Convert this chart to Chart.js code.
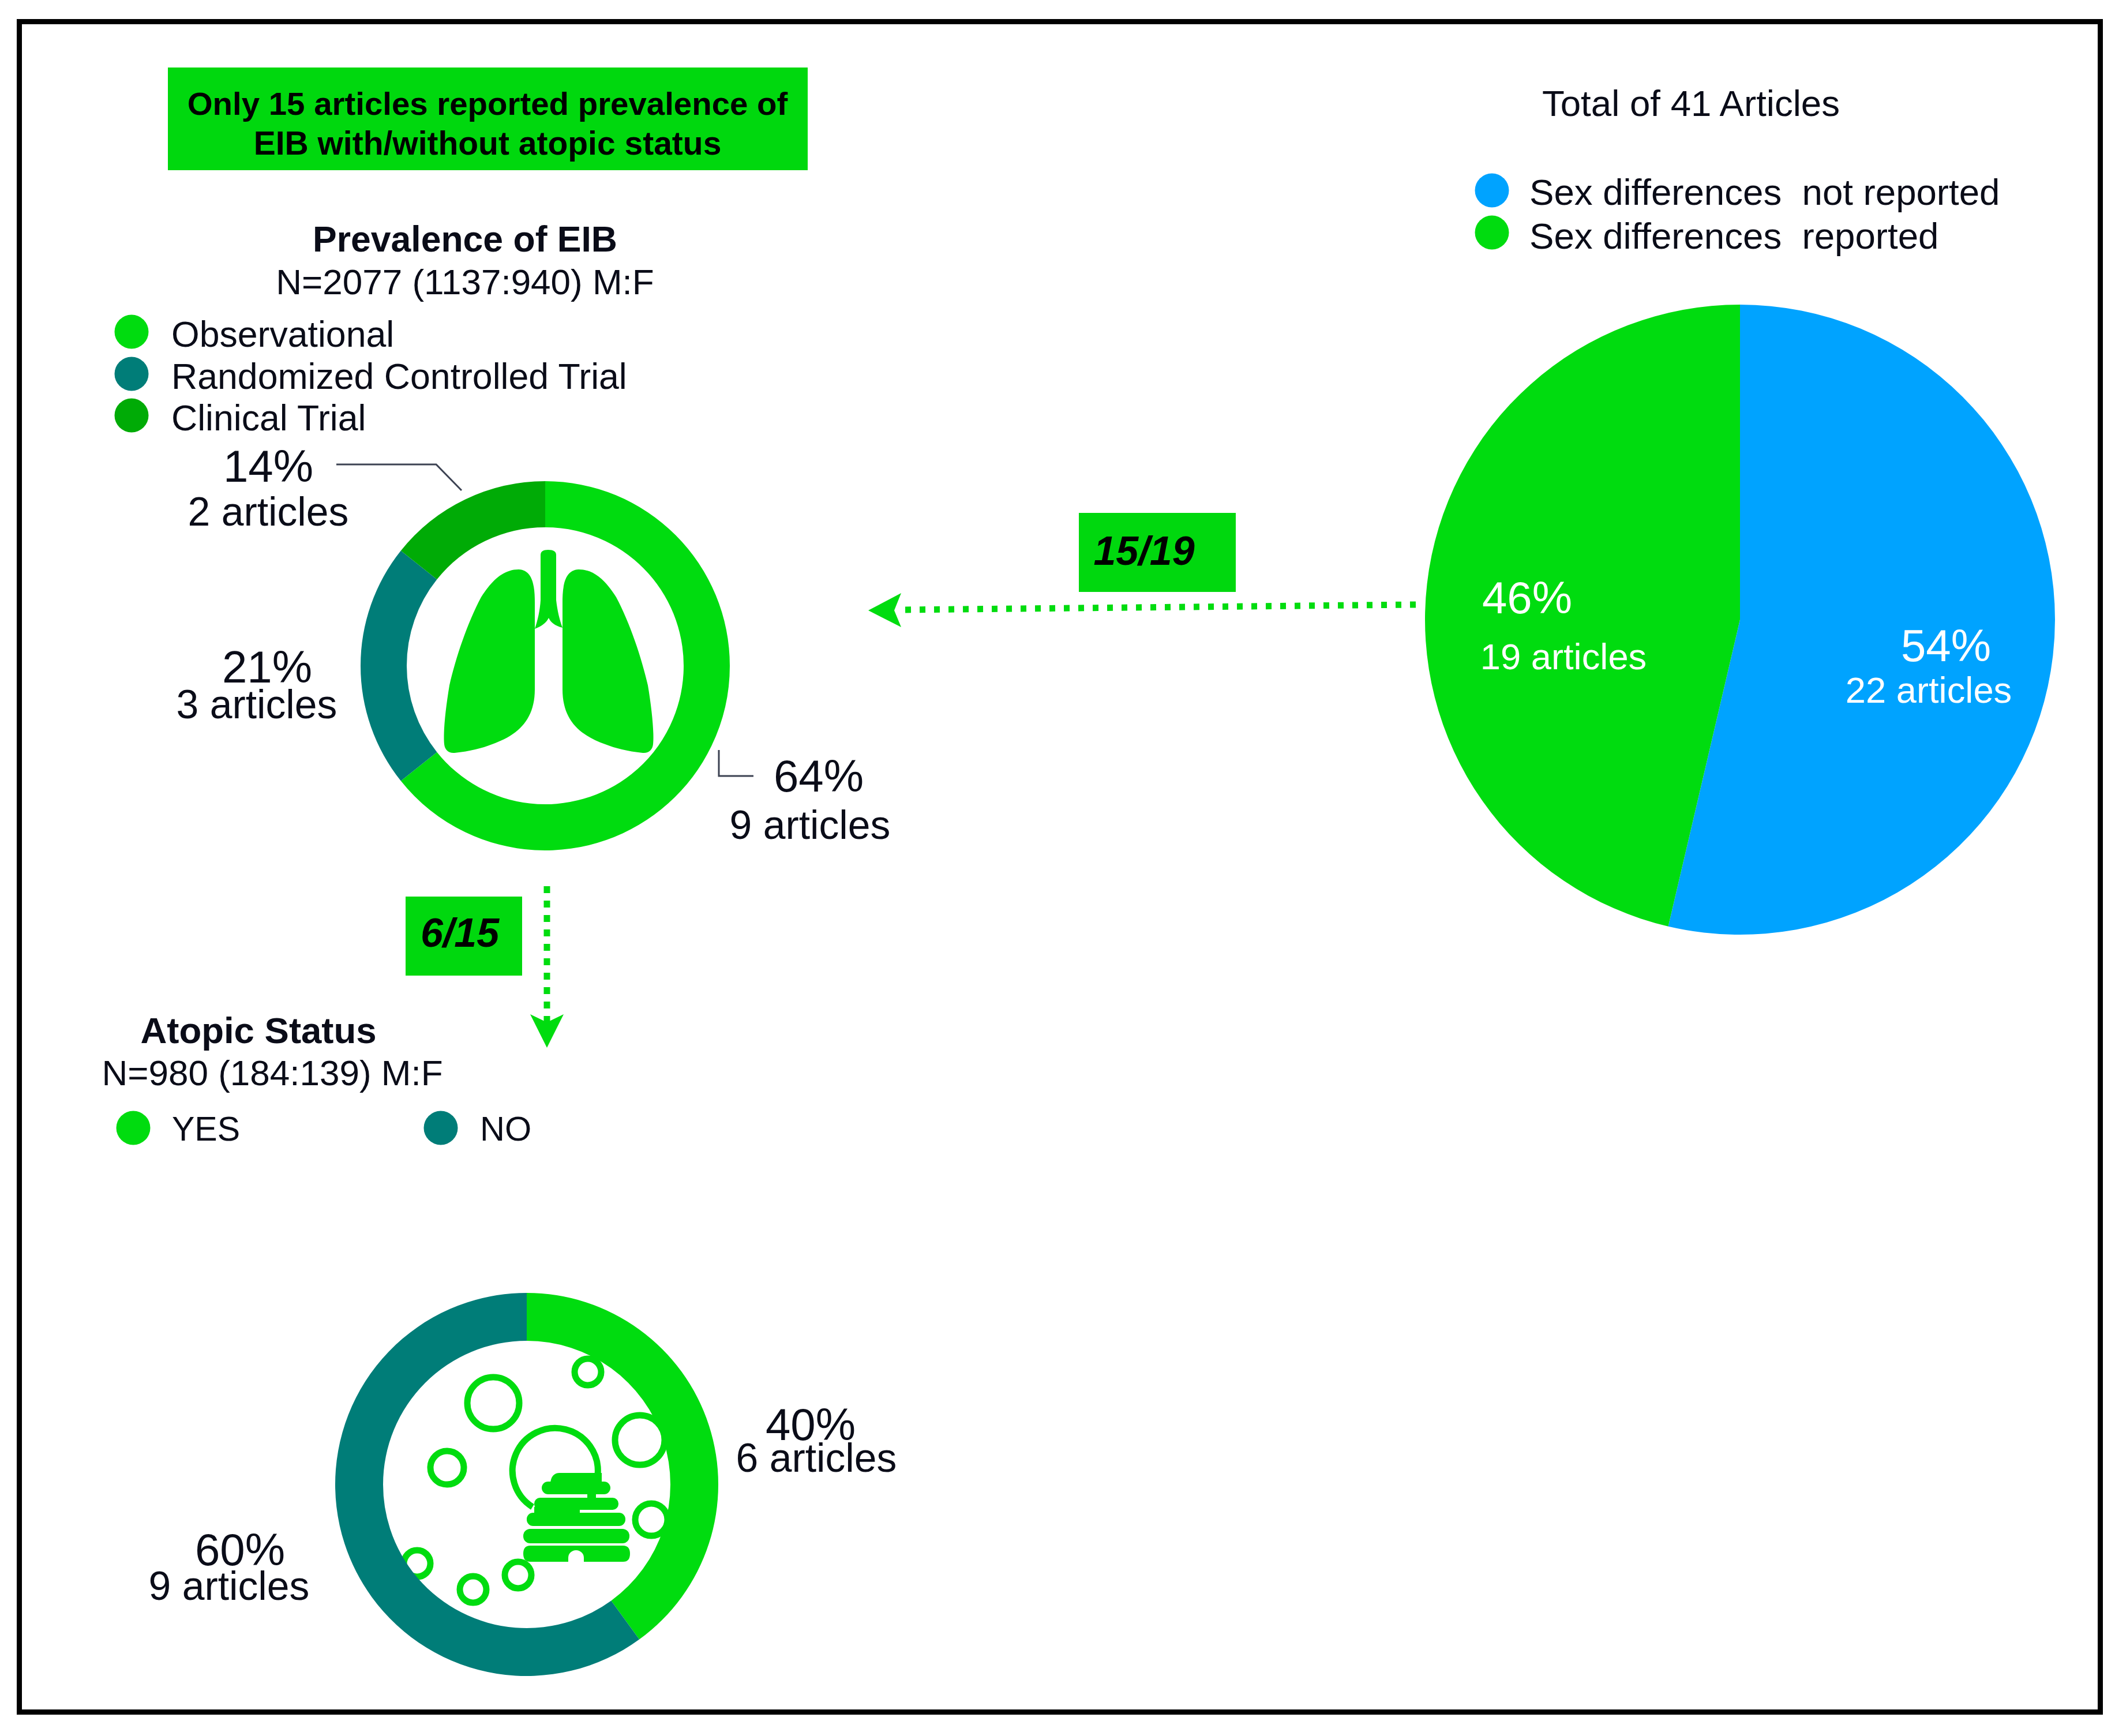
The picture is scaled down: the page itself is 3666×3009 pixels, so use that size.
<!DOCTYPE html>
<html>
<head>
<meta charset="utf-8">
<title>EIB articles</title>
<script src="https://cdn.jsdelivr.net/npm/chart.js@4"></script>
<style>
    html, body { margin: 0; padding: 0; background: #fff; }
    #page { position: relative; width: 3666px; height: 3009px; overflow: hidden; background: #fff; font-family: "Liberation Sans", Arial, sans-serif; color: #0a0c18; }
    #frame { position: absolute; left: 29px; top: 33px; width: 3598px; height: 2921px; border: 9px solid #000; }
    #shapes { position: absolute; left: 0; top: 0; }
    canvas { position: absolute; }
    .txt { position: absolute; white-space: pre; line-height: 0.75; transform: translate(-50%, -50%); }
    .txt.left { transform: translate(0, -50%); }
    .box { position: absolute; background: #00d80e; }
    .dot { position: absolute; border-radius: 50%; transform: translate(-50%, -50%); }
</style>
</head>
<body>
<div id="page">
    <div id="frame"></div>
    <div class="box" style="left:291px;top:117px;width:1109px;height:178px"></div>
    <div class="box" style="left:1870px;top:889px;width:272px;height:137px"></div>
    <div class="box" style="left:703px;top:1554px;width:202px;height:137px"></div>

    <svg id="shapes" width="3666" height="3009" xmlns="http://www.w3.org/2000/svg">
        <!-- leader lines -->
        <polyline points="583,805 756,805 800,850" fill="none" stroke="#3c4252" stroke-width="3"/>
        <polyline points="1246,1300 1246,1345 1306,1345" fill="none" stroke="#3c4252" stroke-width="3"/>

        <!-- dotted arrows -->
        <line x1="2454" y1="1048" x2="1565" y2="1057" stroke="#00dc0f" stroke-width="11" stroke-dasharray="10 15"/>
        <polygon points="1505,1058 1562,1028 1550,1058 1562,1087" fill="#00dc0f"/>
        <line x1="948" y1="1536" x2="948" y2="1772" stroke="#00dc0f" stroke-width="11" stroke-dasharray="12 13"/>
        <polygon points="948,1816 919,1758 948,1772 977,1758" fill="#00dc0f"/>

        <!-- lungs -->
        <g fill="#00dc0f">
            <path id="lung" d="M899 987 C870 987 850 1010 834 1035 C810 1080 790 1140 779 1188 C772 1230 768 1270 770 1290 C771 1300 778 1306 788 1305 C815 1302 835 1297 853 1290 C895 1275 927 1250 927 1195 L927 1045 C927 1020 925 988 899 987 Z"/>
            <use href="#lung" transform="translate(1902 0) scale(-1 1)"/>
            <path d="M937 962 Q937 953 950 953 Q964 953 964 962 L964 1040 C966 1058 970 1075 975 1088 C962 1085 954 1078 951 1071 C948 1078 940 1085 927 1090 C932 1075 936 1058 937 1040 Z"/>
        </g>

        <!-- beehive and bees -->
        <g fill="none" stroke="#00dc0f" stroke-width="11">
            <circle cx="855" cy="2432" r="45"/>
            <circle cx="1019" cy="2378" r="23"/>
            <circle cx="1109" cy="2496" r="43"/>
            <circle cx="775" cy="2544" r="29"/>
            <circle cx="1129" cy="2634" r="28"/>
            <circle cx="723" cy="2710" r="23"/>
            <circle cx="820" cy="2755" r="23"/>
            <circle cx="898" cy="2730" r="23"/>
            <path d="M1036 2556 A74 74 0 1 0 923 2612"/>
        </g>
        <g fill="#00dc0f">
            <path d="M954 2570 Q956 2553 970 2553 L1043 2553 L1043 2570 Z"/>
            <rect x="939" y="2568" width="119" height="22" rx="11"/>
            <rect x="1018" y="2588" width="15" height="10"/>
            <rect x="926" y="2596" width="146" height="21" rx="10"/>
            <rect x="926" y="2612" width="79" height="14"/>
            <rect x="913" y="2622" width="171" height="23" rx="11"/>
            <rect x="907" y="2650" width="184" height="25" rx="12"/>
            <path d="M919 2679 L1080 2679 Q1092 2679 1092 2693 Q1092 2707 1080 2707 L1012 2707 L1012 2700 A13.500 13 0 0 0 985 2700 L985 2707 L919 2707 Q907 2707 907 2693 Q907 2679 919 2679 Z"/>
        </g>
    </svg>

    <canvas id="sexChart" style="left:2470px;top:528px" width="1092" height="1092"></canvas>
    <canvas id="prevalenceChart" style="left:625px;top:834px" width="640" height="640"></canvas>
    <canvas id="atopicChart" style="left:581px;top:2241px" width="664" height="664"></canvas>
</div>

<script>
// Data
const sexLabels = ['Sex differences  not reported', 'Sex differences  reported'];
const sexArticles = [22, 19];
const sexShares = ['54%', '46%'];

const prevalenceLabels = ['Observational', 'Randomized Controlled Trial', 'Clinical Trial'];
const prevalenceArticles = [9, 3, 2];
const prevalenceShares = ['64%', '21%', '14%'];

const atopicLabels = ['YES', 'NO'];
const atopicArticles = [6, 9];
const atopicShares = ['40%', '60%'];

const GREEN = '#00dc0f';
const TEAL = '#007d78';
const DARK_GREEN = '#00ab06';
const BLUE = '#00a3ff';

const page = document.getElementById('page');

const addText = (text, x, y, size, opts = {}) => {
    const el = document.createElement('div');
    el.className = 'txt' + (opts.left ? ' left' : '');
    el.textContent = text;
    el.style.left = x + 'px';
    el.style.top = y + 'px';
    el.style.fontSize = size + 'px';
    if (opts.bold) el.style.fontWeight = 'bold';
    if (opts.italic) el.style.fontStyle = 'italic';
    if (opts.color) el.style.color = opts.color;
    page.appendChild(el);
};

const addDot = (x, y, color) => {
    const el = document.createElement('div');
    el.className = 'dot';
    el.style.left = x + 'px';
    el.style.top = y + 'px';
    el.style.width = '59px';
    el.style.height = '59px';
    el.style.background = color;
    page.appendChild(el);
};

const renderRing = (id, type, labels, values, colors) => {
    new Chart(document.getElementById(id), {
        type,
        data: {
            labels,
            datasets: [{
                data: values,
                backgroundColor: colors,
                borderWidth: 0
            }]
        },
        options: {
            responsive: false,
            devicePixelRatio: 1,
            animation: false,
            cutout: type === 'doughnut' ? '75%' : 0,
            layout: { padding: 0 },
            plugins: { legend: { display: false }, tooltip: { enabled: false } }
        }
    });
};

renderRing('sexChart', 'pie', sexLabels, sexArticles, [BLUE, GREEN]);
renderRing('prevalenceChart', 'doughnut', prevalenceLabels, prevalenceArticles, [GREEN, TEAL, DARK_GREEN]);
renderRing('atopicChart', 'doughnut', atopicLabels, atopicArticles, [GREEN, TEAL]);

// Banner and the two fractions
addText('Only 15 articles reported prevalence of', 845, 180, 56.4, { bold: true, color: '#000' });
addText('EIB with/without atopic status', 845, 248, 57, { bold: true, color: '#000' });
addText('15/19', 1983, 955, 70, { bold: true, italic: true, color: '#000' });
addText('6/15', 797, 1617, 70, { bold: true, italic: true, color: '#000' });

// Right side
addText('Total of 41 Articles', 2931, 179, 63.6);
addDot(2586, 330, BLUE);
addDot(2586, 403, GREEN);
addText(sexLabels[0], 2651, 333, 63.6, { left: true });
addText(sexLabels[1], 2651, 409, 63.6, { left: true });
addText(sexShares[0], 3373, 1119, 78, { color: '#fff' });
addText(`${sexArticles[0]} articles`, 3343, 1197, 63.3, { color: '#fff' });
addText(sexShares[1], 2647, 1036, 78, { color: '#fff' });
addText(`${sexArticles[1]} articles`, 2710, 1139, 63.3, { color: '#fff' });

// Prevalence block
addText('Prevalence of EIB', 806, 414, 62.5, { bold: true });
addText('N=2077 (1137:940) M:F', 806, 489, 62);
[GREEN, TEAL, DARK_GREEN].forEach((c, i) => {
    addDot(228, 575 + i * 72.5, c);
    addText(prevalenceLabels[i], 297, 579 + i * 72.5, 62.6, { left: true });
});
addText(prevalenceShares[0], 1419, 1345, 78);
addText(`${prevalenceArticles[0]} articles`, 1404, 1430, 69.7);
addText(prevalenceShares[1], 463, 1156, 78);
addText(`${prevalenceArticles[1]} articles`, 445, 1221, 69.7);
addText(prevalenceShares[2], 465, 808, 78);
addText(`${prevalenceArticles[2]} articles`, 465, 887, 69.7);

// Atopic block
addText('Atopic Status', 448, 1787, 63.5, { bold: true });
addText('N=980 (184:139) M:F', 472, 1860, 62);
addDot(231, 1955, GREEN);
addDot(764, 1955, TEAL);
addText(atopicLabels[0], 298, 1957, 59, { left: true });
addText(atopicLabels[1], 832, 1957, 59.5, { left: true });
addText(atopicShares[0], 1405, 2469, 78);
addText(`${atopicArticles[0]} articles`, 1415, 2527, 69.7);
addText(atopicShares[1], 416, 2686, 78);
addText(`${atopicArticles[1]} articles`, 397, 2749, 69.7);
</script>
</body>
</html>
